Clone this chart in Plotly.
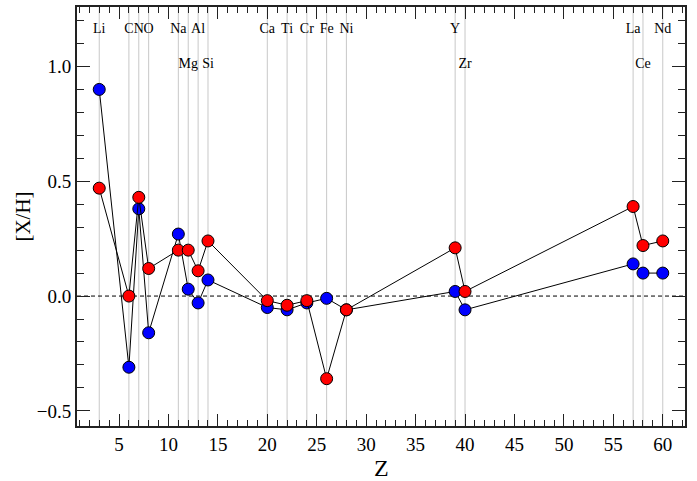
import plotly.graph_objects as go

elements = ["Li", "C", "N", "O", "Na", "Mg", "Al", "Si", "Ca", "Ti", "Cr", "Fe", "Ni", "Y", "Zr", "La", "Ce", "Nd"]
z_values = [3, 6, 7, 8, 11, 12, 13, 14, 20, 22, 24, 26, 28, 39, 40, 57, 58, 60]
label_row = [1, 1, 1, 1, 1, 2, 1, 2, 1, 1, 1, 1, 1, 1, 2, 1, 2, 1]
blue_xh = [0.90, -0.31, 0.38, -0.16, 0.27, 0.03, -0.03, 0.07, -0.05, -0.06, -0.03, -0.01, -0.06, 0.02, -0.06, 0.14, 0.10, 0.10]
red_xh = [0.47, 0.00, 0.43, 0.12, 0.20, 0.20, 0.11, 0.24, -0.02, -0.04, -0.02, -0.36, -0.06, 0.21, 0.02, 0.39, 0.22, 0.24]
label_y = {1: 1.162, 2: 1.01}

FONT = "Liberation Serif"
fig = go.Figure()

# vertical element lines
for z in z_values:
    fig.add_shape(type="line", x0=z, x1=z, y0=0, y1=1, xref="x", yref="paper",
                  line=dict(color="#c8c8c8", width=1), layer="below")

# zero dashed line
fig.add_shape(type="line", x0=0, x1=1, y0=0, y1=0, xref="paper", yref="y",
              line=dict(color="black", width=1, dash="4px,3px"), layer="below")

fig.add_trace(go.Scatter(x=z_values, y=blue_xh, mode="lines+markers",
                         line=dict(color="black", width=1),
                         marker=dict(size=12, color="#0000ff", line=dict(color="black", width=1)),
                         showlegend=False))
fig.add_trace(go.Scatter(x=z_values, y=red_xh, mode="lines+markers",
                         line=dict(color="black", width=1),
                         marker=dict(size=12, color="#ff0000", line=dict(color="black", width=1)),
                         showlegend=False))

fig.add_trace(go.Scatter(x=z_values, y=[label_y[r] for r in label_row], mode="text",
                         text=elements, textposition="middle center",
                         textfont=dict(family=FONT, size=14, color="black"),
                         showlegend=False, hoverinfo="skip"))

axis_common = dict(showgrid=False, zeroline=False, showline=True, linecolor="#222222",
                   linewidth=2, mirror="ticks", ticks="inside", tickcolor="#222222",
                   tickwidth=1, automargin=False,
                   tickfont=dict(family=FONT, size=19, color="black"))

fig.update_xaxes(range=[0.75, 62.25], dtick=5, tick0=0, ticklen=12,
                 minor=dict(dtick=1, ticklen=6, ticks="inside", tickcolor="#222222", tickwidth=1),
                 **axis_common)
fig.update_yaxes(range=[-0.566, 1.259], dtick=0.5, tick0=0, ticklen=13, tickformat=".1f",
                 minor=dict(dtick=0.1, ticklen=7, ticks="inside", tickcolor="#222222", tickwidth=1),
                 **axis_common)

fig.add_annotation(text="Z", x=0.5, y=-0.1, xref="paper", yref="paper",
                   xanchor="center", yanchor="middle", showarrow=False,
                   font=dict(family=FONT, size=24, color="black"))
fig.add_annotation(text="[X/H]", x=-0.088, y=0.501, xref="paper", yref="paper",
                   xanchor="center", yanchor="middle", showarrow=False, textangle=-90,
                   font=dict(family=FONT, size=21, color="black"))

fig.update_layout(width=697, height=481, margin=dict(l=77, r=12, t=7, b=55),
                  plot_bgcolor="white", paper_bgcolor="white",
                  font=dict(family=FONT, color="black"))

fig.write_html("out.html", config={"displayModeBar": False},
               post_script="document.body.style.margin='0';")
